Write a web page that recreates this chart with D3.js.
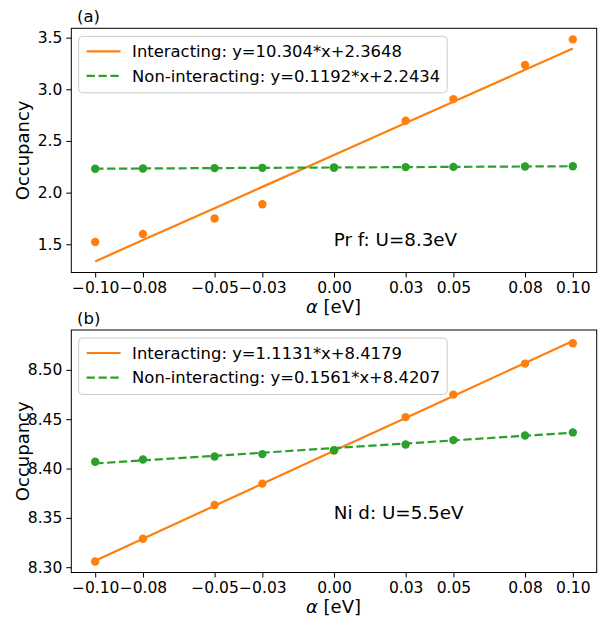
<!DOCTYPE html>
<html>
<head>
<meta charset="utf-8">
<script src="https://cdn.jsdelivr.net/npm/d3@7"></script>
<style>
  body { margin: 0; background: #fff; }
  svg { display: block; font-family: "DejaVu Sans", sans-serif; }
</style>
</head>
<body>
<div id="chart"></div>
<script>
// alpha values (eV)
const alphas = [-0.1, -0.08, -0.05, -0.03, 0, 0.03, 0.05, 0.08, 0.1];
const xTickLabels = ["\u22120.10", "\u22120.08", "\u22120.05", "\u22120.03", "0.00", "0.03", "0.05", "0.08", "0.10"];

// panel (a): Pr f
const prInteracting = [1.523, 1.60, 1.75, 1.887, 2.24, 2.696, 2.905, 3.236, 3.483];
const prNonInteracting = [2.231, 2.234, 2.237, 2.240, 2.243, 2.247, 2.249, 2.253, 2.256];
const prFitInt = [10.304, 2.3648];
const prFitNon = [0.1192, 2.2434];
const prYTicks = [1.5, 2.0, 2.5, 3.0, 3.5];

// panel (b): Ni d
const niInteracting = [8.3058, 8.3289, 8.363, 8.3847, 8.4182, 8.4521, 8.4749, 8.5063, 8.5270];
const niNonInteracting = [8.4068, 8.4091, 8.4122, 8.4146, 8.4186, 8.4243, 8.4288, 8.4335, 8.4366];
const niFitInt = [1.1131, 8.4179];
const niFitNon = [0.1561, 8.4207];
const niYTicks = [8.30, 8.35, 8.40, 8.45, 8.50];

const orange = "#ff7f0e", green = "#2ca02c";
const W = 601, H = 618;

const svg = d3.select("#chart").append("svg")
  .attr("width", W).attr("height", H);

function panel(opts) {
  const left = 71.3, right = 596.7;
  const top = opts.top, bottom = opts.bottom;

  const fitInt = alphas.map(a => opts.fitInt[0] * a + opts.fitInt[1]);
  const fitNon = alphas.map(a => opts.fitNon[0] * a + opts.fitNon[1]);
  const all = [].concat(opts.int, opts.non, fitInt, fitNon);
  const ymin = d3.min(all), ymax = d3.max(all);
  const pad = (ymax - ymin) * 0.05;

  const x = d3.scaleLinear().domain([-0.11, 0.11]).range([left, right]);
  const y = d3.scaleLinear().domain([ymin - pad, ymax + pad]).range([bottom, top]);

  const g = svg.append("g");

  // x axis
  const xAxis = d3.axisBottom(x).tickValues(alphas)
    .tickFormat((d, i) => xTickLabels[i]).tickSize(5).tickPadding(4);
  const gx = g.append("g").attr("transform", `translate(0,${bottom})`).call(xAxis);
  gx.select(".domain").remove();
  gx.selectAll("text").attr("font-size", 15.5).attr("fill", "#000")
    .attr("font-family", "DejaVu Sans");
  gx.selectAll("line").attr("stroke", "#000").attr("stroke-width", 1);

  // y axis
  const yAxis = d3.axisLeft(y).tickValues(opts.yTicks)
    .tickFormat(d3.format(opts.yFmt)).tickSize(5).tickPadding(4);
  const gy = g.append("g").attr("transform", `translate(${left},0)`).call(yAxis);
  gy.select(".domain").remove();
  gy.selectAll("text").attr("font-size", 15.5).attr("fill", "#000")
    .attr("font-family", "DejaVu Sans");
  gy.selectAll("line").attr("stroke", "#000").attr("stroke-width", 1);

  // data: interacting
  const line = d3.line().x((d, i) => x(alphas[i])).y(d => y(d));
  g.append("g").selectAll("circle").data(opts.int).join("circle")
    .attr("cx", (d, i) => x(alphas[i])).attr("cy", d => y(d))
    .attr("r", 4.2).attr("fill", orange);
  g.append("path").datum(fitInt).attr("d", line)
    .attr("fill", "none").attr("stroke", orange).attr("stroke-width", 2.2);

  // data: non-interacting
  g.append("g").selectAll("circle").data(opts.non).join("circle")
    .attr("cx", (d, i) => x(alphas[i])).attr("cy", d => y(d))
    .attr("r", 4.2).attr("fill", green);
  g.append("path").datum(fitNon).attr("d", line)
    .attr("fill", "none").attr("stroke", green).attr("stroke-width", 2.2)
    .attr("stroke-dasharray", "8.3,3.6");

  // frame
  g.append("rect").attr("x", left).attr("y", top)
    .attr("width", right - left).attr("height", bottom - top)
    .attr("fill", "none").attr("stroke", "#000").attr("stroke-width", 1);

  // legend
  const lg = g.append("g").attr("transform", `translate(78.6,${top + 8})`);
  const box = lg.append("rect").attr("rx", 4).attr("ry", 4)
    .attr("fill", "#fff").attr("fill-opacity", 0.8)
    .attr("stroke", "#ccc").attr("stroke-width", 1);
  const entries = [
    { label: `Interacting: y=${opts.fitInt[0]}*x+${opts.fitInt[1]}`, color: orange, dash: null },
    { label: `Non-interacting: y=${opts.fitNon[0]}*x+${opts.fitNon[1]}`, color: green, dash: "8.3,3.6" }
  ];
  let maxW = 0;
  entries.forEach((e, i) => {
    const cy = 15 + i * 24.6;
    lg.append("line").attr("x1", 8).attr("x2", 42).attr("y1", cy).attr("y2", cy)
      .attr("stroke", e.color).attr("stroke-width", 2.2)
      .attr("stroke-dasharray", e.dash);
    const t = lg.append("text").attr("x", 53.5).attr("y", cy).attr("dy", "0.35em")
      .attr("font-size", 16.4).attr("fill", "#000").text(e.label);
    maxW = Math.max(maxW, t.node().getComputedTextLength());
  });
  box.attr("width", 53.5 + maxW + 7).attr("height", 56.5);

  // annotation
  g.append("text").attr("x", 333.8).attr("y", opts.noteY)
    .attr("font-size", 18.3).attr("fill", "#000").text(opts.note);

  // panel label
  g.append("text").attr("x", 77).attr("y", top - 6.5)
    .attr("font-size", 16.5).attr("fill", "#000").text(opts.tag);

  // axis labels
  g.append("text").attr("x", (left + right) / 2 - 0.5).attr("y", bottom + 40)
    .attr("text-anchor", "middle").attr("font-size", 18).attr("fill", "#000")
    .html('<tspan font-style="italic">\u03b1</tspan> [eV]');
  g.append("text")
    .attr("transform", `translate(29,${(top + bottom) / 2}) rotate(-90)`)
    .attr("text-anchor", "middle").attr("font-size", 18).attr("fill", "#000")
    .text("Occupancy");
}

panel({
  top: 28.3, bottom: 272.5,
  int: prInteracting, non: prNonInteracting,
  fitInt: prFitInt, fitNon: prFitNon,
  yTicks: prYTicks, yFmt: ".1f",
  note: "Pr f: U=8.3eV", noteY: 245.8, tag: "(a)"
});

panel({
  top: 330, bottom: 572.5,
  int: niInteracting, non: niNonInteracting,
  fitInt: niFitInt, fitNon: niFitNon,
  yTicks: niYTicks, yFmt: ".2f",
  note: "Ni d: U=5.5eV", noteY: 518.8, tag: "(b)"
});
</script>
</body>
</html>
